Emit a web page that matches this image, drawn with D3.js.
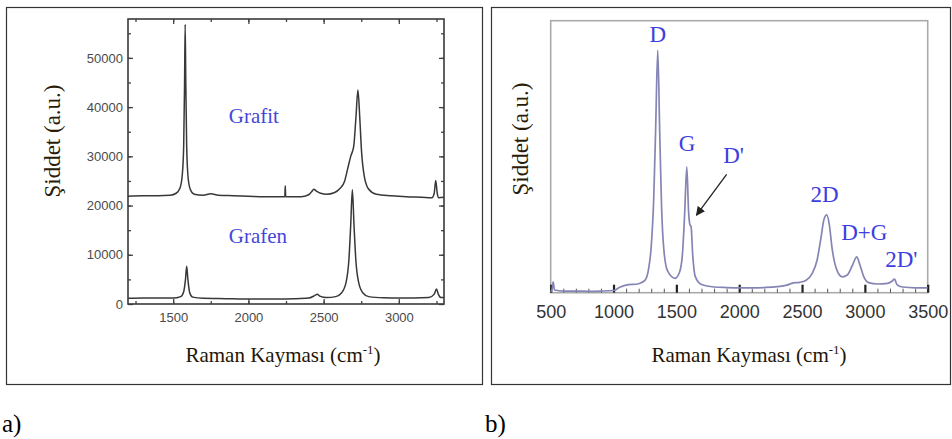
<!DOCTYPE html>
<html lang="tr">
<head>
<meta charset="utf-8">
<title>Raman</title>
<script src="https://d3js.org/d3.v7.min.js"></script>
<style>
  body { margin: 0; background: #fff; }
  svg { display: block; }
  .serif { font-family: "Liberation Serif", "Times New Roman", serif; }
  .tickA text { font-family: "Liberation Sans", Arial, sans-serif; font-size: 13px; fill: #4a4a4a; }
  .tickB text { font-family: "Liberation Sans", Arial, sans-serif; font-size: 18px; fill: #333; }
</style>
</head>
<body>
<script>
// panel a) Grafit / Grafen spectra, [Raman shift, intensity]
var grafit = [[1200,21900],[1300,22000],[1400,22000],[1480,22100],[1520,22500],[1545,23500],[1560,26000],
  [1570,32000],[1576,45000],[1580,56800],[1584,45000],[1590,32000],[1600,25500],[1615,23200],[1640,22300],
  [1700,22100],[1750,22400],[1800,22100],[1900,22000],[2000,21900],[2100,21800],[2200,21800],[2242,21800],
  [2245,24000],[2248,21800],[2350,21800],[2400,22200],[2420,22800],[2435,23300],[2450,23000],[2480,22500],
  [2520,22300],[2570,22600],[2610,23500],[2640,25000],[2660,27500],[2680,30000],[2700,32000],[2715,38000],
  [2728,43500],[2740,38000],[2752,31000],[2770,26000],[2800,23300],[2850,22300],[2950,22000],[3050,21800],
  [3150,21700],[3220,21600],[3235,22500],[3245,25100],[3255,22500],[3265,21600],[3300,21700]];
var grafen = [[1200,1150],[1300,1200],[1400,1200],[1500,1200],[1550,1500],[1570,2500],[1582,5000],[1590,7650],
  [1598,5000],[1610,2300],[1630,1400],[1700,1150],[1800,1100],[1900,1050],[2000,1000],[2100,1000],[2200,1000],
  [2300,1050],[2400,1200],[2440,1700],[2458,2000],[2475,1600],[2520,1300],[2580,1500],[2620,2300],[2650,4500],
  [2668,9000],[2680,16000],[2691,23200],[2702,16000],[2714,9000],[2732,4500],[2760,2300],[2800,1500],
  [2900,1250],[3000,1200],[3100,1200],[3200,1300],[3235,2000],[3250,3050],[3262,2000],[3280,1300],[3300,1300]];
var xTicksA = [1500, 2000, 2500, 3000];
var yTicksA = [0, 10000, 20000, 30000, 40000, 50000];
var seriesLabelsA = [["Grafit", 1870, 36800], ["Grafen", 1870, 12400]];

// panel b) defective graphene spectrum, relative intensity
var spectrumB = [[500,0.004],[510,0.01],[520,0.04],[530,0.01],[600,0.006],[700,0.006],[800,0.005],[900,0.006],
  [1000,0.008],[1050,0.02],[1100,0.028],[1200,0.033],[1250,0.045],[1280,0.09],[1300,0.17],[1320,0.35],
  [1335,0.6],[1352,0.892],[1367,0.6],[1382,0.32],[1400,0.16],[1430,0.08],[1490,0.053],[1525,0.075],
  [1548,0.14],[1566,0.29],[1583,0.463],[1597,0.3],[1608,0.25],[1617,0.243],[1630,0.14],[1650,0.06],
  [1700,0.03],[1800,0.021],[1900,0.019],[2000,0.018],[2100,0.018],[2200,0.019],[2300,0.022],[2380,0.028],
  [2430,0.036],[2480,0.038],[2530,0.045],[2580,0.07],[2620,0.12],[2650,0.2],[2675,0.27],[2697,0.286],
  [2717,0.25],[2740,0.16],[2780,0.08],[2820,0.058],[2860,0.065],[2900,0.1],[2936,0.132],[2962,0.1],
  [2990,0.06],[3030,0.037],[3100,0.032],[3180,0.034],[3215,0.042],[3236,0.05],[3255,0.03],[3300,0.021],
  [3400,0.018],[3500,0.018]];
var xTicksB = [500, 1000, 1500, 2000, 2500, 3000, 3500];
var peakLabelsB = [["D", 1352, 0.92], ["G", 1585, 0.52], ["D'", 1955, 0.478], ["2D", 2680, 0.335],
  ["D+G", 2995, 0.193], ["2D'", 3290, 0.095]];

var W = 952, H = 439;
var svg = d3.select("body").append("svg").attr("width", W).attr("height", H);
var fmt = d3.format("d");

// outer frames
svg.append("rect").attr("x", 6.5).attr("y", 7.5).attr("width", 476).attr("height", 377)
  .attr("fill", "none").attr("stroke", "#333").attr("stroke-width", 1.2);
svg.append("rect").attr("x", 491.5).attr("y", 7.5).attr("width", 459).attr("height", 377)
  .attr("fill", "none").attr("stroke", "#333").attr("stroke-width", 1.2);

svg.append("text").attr("class", "serif").attr("x", 2).attr("y", 432).attr("font-size", 25).text("a)");
svg.append("text").attr("class", "serif").attr("x", 485).attr("y", 432).attr("font-size", 25).text("b)");

function xLabel(g, cx, y) {
  var t = g.append("text").attr("class", "serif").attr("x", cx).attr("y", y)
    .attr("text-anchor", "middle").attr("font-size", 21).attr("fill", "#1e1608");
  t.append("tspan").text("Raman Kayması (cm");
  t.append("tspan").attr("font-size", 13).attr("dy", -8).text("-1");
  t.append("tspan").attr("dy", 8).text(")");
}
function yLabel(g, x, cy) {
  g.append("text").attr("class", "serif").attr("transform", "translate(" + x + "," + cy + ") rotate(-90)")
    .attr("text-anchor", "middle").attr("font-size", 23).attr("fill", "#2a1c08").text("Şiddet (a.u.)");
}

// ---------- panel a ----------
var ax = d3.scaleLinear().domain([1200, 3300]).range([128, 444]);
var ay = d3.scaleLinear().domain([0, 57900]).range([304, 19]);
var ga = svg.append("g");

var minorX = d3.range(1250, 3300, 250), minorY = d3.range(5000, 57900, 5000);
ga.append("g").attr("class", "tickA").attr("transform", "translate(0,304)")
  .call(d3.axisBottom(ax).tickValues(minorX).tickSize(-3).tickFormat(""));
ga.append("g").attr("class", "tickA").attr("transform", "translate(0,19)")
  .call(d3.axisTop(ax).tickValues(minorX).tickSize(-3).tickFormat(""));
ga.append("g").attr("class", "tickA").attr("transform", "translate(128,0)")
  .call(d3.axisLeft(ay).tickValues(minorY).tickSize(-3).tickFormat(""));
ga.append("g").attr("class", "tickA").attr("transform", "translate(444,0)")
  .call(d3.axisRight(ay).tickValues(minorY).tickSize(-3).tickFormat(""));

ga.append("g").attr("class", "tickA").attr("transform", "translate(0,304)")
  .call(d3.axisBottom(ax).tickValues(xTicksA).tickSize(-5).tickPadding(9).tickFormat(fmt));
ga.append("g").attr("class", "tickA").attr("transform", "translate(0,19)")
  .call(d3.axisTop(ax).tickValues(xTicksA).tickSize(-5).tickFormat(""));
ga.append("g").attr("class", "tickA").attr("transform", "translate(128,0)")
  .call(d3.axisLeft(ay).tickValues(yTicksA).tickSize(-5).tickPadding(5).tickFormat(fmt));
ga.append("g").attr("class", "tickA").attr("transform", "translate(444,0)")
  .call(d3.axisRight(ay).tickValues(yTicksA).tickSize(-5).tickFormat(""));
ga.selectAll(".domain").remove();
ga.selectAll(".tick line").attr("stroke", "#444").attr("stroke-width", 1.3);

ga.append("rect").attr("x", 128).attr("y", 19).attr("width", 316).attr("height", 285)
  .attr("fill", "none").attr("stroke", "#3a3a3a").attr("stroke-width", 1.6);

var lineA = d3.line().x(function(d) { return ax(d[0]); }).y(function(d) { return ay(d[1]); })
  .curve(d3.curveMonotoneX);
[grafit, grafen].forEach(function(s) {
  ga.append("path").datum(s).attr("d", lineA).attr("fill", "none")
    .attr("stroke", "#383838").attr("stroke-width", 1.5);
});
seriesLabelsA.forEach(function(l) {
  ga.append("text").attr("class", "serif").attr("x", ax(l[1])).attr("y", ay(l[2]))
    .attr("font-size", 21).attr("fill", "#4646d8").text(l[0]);
});
xLabel(ga, 283, 362);
yLabel(ga, 60, 141);

// ---------- panel b ----------
var bx = d3.scaleLinear().domain([500, 3500]).range([550.7, 927.7]);
var by = d3.scaleLinear().domain([0, 1]).range([292.7, 20.7]);
var gb = svg.append("g");

gb.append("rect").attr("x", 550.7).attr("y", 20.7).attr("width", 377).attr("height", 272)
  .attr("fill", "none").attr("stroke", "#aaa").attr("stroke-width", 1.6);

var minorB = d3.range(600, 3500, 100).filter(function(v) { return v % 500 !== 0; });
gb.append("g").attr("transform", "translate(0,292.7)")
  .call(d3.axisBottom(bx).tickValues(minorB).tickSize(-4).tickFormat(""))
  .selectAll(".tick line").attr("stroke", "#555").attr("stroke-width", 1);
gb.append("g").attr("class", "tickB").attr("transform", "translate(0,292.7)")
  .call(d3.axisBottom(bx).tickValues(xTicksB).tickSize(-8).tickPadding(13).tickFormat(fmt))
  .selectAll(".tick line").attr("stroke", "#222").attr("stroke-width", 2.2);
gb.selectAll(".domain").remove();

var lineB = d3.line().x(function(d) { return bx(d[0]); }).y(function(d) { return by(d[1]); })
  .curve(d3.curveMonotoneX);
gb.append("path").datum(spectrumB).attr("d", lineB).attr("fill", "none")
  .attr("stroke", "#8585b5").attr("stroke-width", 1.7);

peakLabelsB.forEach(function(l) {
  gb.append("text").attr("class", "serif").attr("x", bx(l[1])).attr("y", by(l[2]))
    .attr("text-anchor", "middle").attr("font-size", 23).attr("fill", "#3d3de0").text(l[0]);
});

svg.append("defs").append("marker").attr("id", "arr").attr("viewBox", "0 0 10 10")
  .attr("refX", 9).attr("refY", 5).attr("markerWidth", 7).attr("markerHeight", 7)
  .attr("orient", "auto").append("path").attr("d", "M0,0 L10,5 L0,10 z").attr("fill", "#222");
gb.append("line").attr("x1", bx(1900)).attr("y1", by(0.435)).attr("x2", bx(1660)).attr("y2", by(0.285))
  .attr("stroke", "#222").attr("stroke-width", 1.3).attr("marker-end", "url(#arr)");

xLabel(gb, 749, 362);
yLabel(gb, 528, 139);
</script>
</body>
</html>
